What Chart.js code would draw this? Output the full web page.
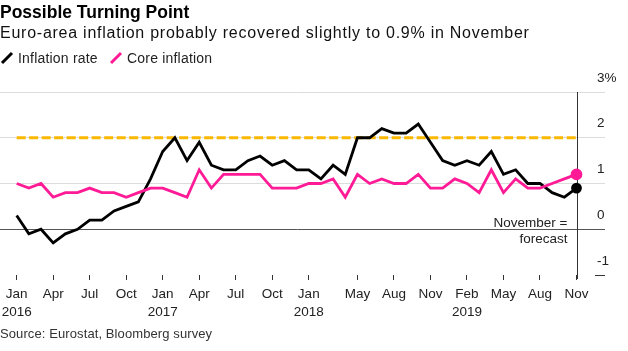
<!DOCTYPE html>
<html><head><meta charset="utf-8">
<script src="https://cdn.jsdelivr.net/npm/chart.js@4.4.1/dist/chart.umd.min.js"></script>
<style>html,body{margin:0;padding:0;background:#fff}canvas{display:block}</style>
</head><body>
<canvas id="c" width="628" height="351"></canvas>
<script>
const categories = [
  "Jan 2016","Feb 2016","Mar 2016","Apr 2016","May 2016","Jun 2016","Jul 2016","Aug 2016","Sep 2016","Oct 2016","Nov 2016","Dec 2016",
  "Jan 2017","Feb 2017","Mar 2017","Apr 2017","May 2017","Jun 2017","Jul 2017","Aug 2017","Sep 2017","Oct 2017","Nov 2017","Dec 2017",
  "Jan 2018","Feb 2018","Mar 2018","Apr 2018","May 2018","Jun 2018","Jul 2018","Aug 2018","Sep 2018","Oct 2018","Nov 2018","Dec 2018",
  "Jan 2019","Feb 2019","Mar 2019","Apr 2019","May 2019","Jun 2019","Jul 2019","Aug 2019","Sep 2019","Oct 2019","Nov 2019"
];
const inflationRate = [
  0.3,-0.1,0.0,-0.3,-0.1,0.0,0.2,0.2,0.4,0.5,0.6,1.1,
  1.7,2.0,1.5,1.9,1.4,1.3,1.3,1.5,1.6,1.4,1.5,1.3,
  1.3,1.1,1.4,1.2,2.0,2.0,2.2,2.1,2.1,2.3,1.9,1.5,
  1.4,1.5,1.4,1.7,1.2,1.3,1.0,1.0,0.8,0.7,0.9
];
const coreInflation = [
  1.0,0.9,1.0,0.7,0.8,0.8,0.9,0.8,0.8,0.7,0.8,0.9,
  0.9,0.8,0.7,1.3,0.9,1.2,1.2,1.2,1.2,0.9,0.9,0.9,
  1.0,1.0,1.1,0.7,1.2,1.0,1.1,1.0,1.0,1.2,0.9,0.9,
  1.1,1.0,0.8,1.3,0.8,1.1,0.9,0.9,1.0,1.1,1.2
];
const ecbTarget = 2;
const xTickIndex = [0,3,6,9,12,15,18,21,24,28,31,34,37,40,43,46];
const xTickMonth = ["Jan","Apr","Jul","Oct","Jan","Apr","Jul","Oct","Jan","May","Aug","Nov","Feb","May","Aug","Nov"];
const xTickYear  = ["2016","","","","2017","","","","2018","","","","2019","","",""];
const yTickValues = [-1,0,1,2,3];
const yTickLabels = ["-1","0","1","2","3%"];

const FONT = "'Liberation Sans', Arial, sans-serif";
const BLACK = '#000000';
const PINK = '#ff1a96';
const GOLD = '#fbb800';

function slashIcon(color){
  const c = document.createElement('canvas');
  c.width = 14; c.height = 14;
  const g = c.getContext('2d');
  g.strokeStyle = color; g.lineWidth = 3; g.lineCap = 'butt';
  g.beginPath(); g.moveTo(2,12); g.lineTo(12,2); g.stroke();
  return c;
}

const decorations = {
  id: 'decorations',
  beforeDatasetsDraw(chart){
    const {ctx, scales:{x,y}} = chart;
    ctx.save();
    ctx.strokeStyle = GOLD; ctx.lineWidth = 3; ctx.setLineDash([9,3.5]);
    ctx.beginPath();
    ctx.moveTo(x.getPixelForValue(0), y.getPixelForValue(ecbTarget));
    ctx.lineTo(x.getPixelForValue(categories.length-1), y.getPixelForValue(ecbTarget));
    ctx.stroke();
    ctx.restore();
    const lx = Math.round(x.getPixelForValue(categories.length-1)) + 0.5;
    ctx.save();
    ctx.strokeStyle = '#333'; ctx.lineWidth = 1;
    ctx.beginPath(); ctx.moveTo(lx, y.getPixelForValue(3)); ctx.lineTo(lx, y.getPixelForValue(-1)+4); ctx.stroke();
    ctx.font = '13.5px ' + FONT;
    ctx.textAlign = 'right'; ctx.textBaseline = 'middle';
    const y0 = y.getPixelForValue(0);
    const tx = lx - 10;
    ctx.lineJoin = 'round';
    ctx.strokeStyle = '#fff'; ctx.lineWidth = 3;
    ctx.strokeText('November =', tx, y0 - 6);
    ctx.strokeText('forecast', tx, y0 + 10);
    ctx.fillStyle = '#222';
    ctx.fillText('November =', tx, y0 - 6);
    ctx.fillText('forecast', tx, y0 + 10);
    ctx.restore();
  },
  afterDraw(chart){
    const ctx = chart.ctx;
    ctx.save();
    ctx.textAlign = 'left'; ctx.textBaseline = 'alphabetic';
    ctx.fillStyle = '#000';
    ctx.font = 'bold 17.5px ' + FONT;
    ctx.fillText('Possible Turning Point', 0, 18);
    ctx.fillStyle = '#111';
    ctx.font = '16px ' + FONT;
    ctx.letterSpacing = '0.75px';
    ctx.fillText('Euro-area inflation probably recovered slightly to 0.9% in November', 0, 38);
    ctx.letterSpacing = '0px';
    ctx.drawImage(slashIcon(BLACK), 0, 51);
    ctx.drawImage(slashIcon(PINK), 109, 51);
    ctx.font = '14px ' + FONT;
    ctx.fillStyle = '#222';
    ctx.letterSpacing = '0.2px';
    ctx.fillText('Inflation rate', 18, 63);
    ctx.fillText('Core inflation', 127, 63);
    ctx.font = '13px ' + FONT;
    ctx.fillStyle = '#333';
    ctx.letterSpacing = '0.1px';
    ctx.fillText('Source: Eurostat, Bloomberg survey', 0, 338);
    ctx.restore();
  }
};

const lastIdx = categories.length - 1;
new Chart(document.getElementById('c'), {
  type: 'line',
  data: {
    labels: categories.map((_, i) => i),
    datasets: [
      { label: 'Core inflation', data: coreInflation, borderColor: PINK, backgroundColor: PINK,
        borderWidth: 2.8, pointRadius: ctx => ctx.dataIndex === lastIdx ? 4.5 : 0, pointHoverRadius: 0,
        tension: 0, order: 0, borderJoinStyle: 'miter', clip: false },
      { label: 'Inflation rate', data: inflationRate, borderColor: BLACK, backgroundColor: BLACK,
        borderWidth: 2.8, pointRadius: ctx => ctx.dataIndex === lastIdx ? 4 : 0, pointHoverRadius: 0,
        tension: 0, order: 1, borderJoinStyle: 'miter', clip: false }
    ]
  },
  options: {
    responsive: false, animation: false, devicePixelRatio: 1,
    layout: { autoPadding: false, padding: { top: 92, left: 0, right: 0, bottom: 0 } },
    plugins: { legend: { display: false }, tooltip: { enabled: false } },
    scales: {
      x: {
        type: 'linear', min: -1.37, max: 47.52,
        afterBuildTicks(axis){ axis.ticks = xTickIndex.map(v => ({ value: v })); },
        afterFit(axis){ axis.height = 76; axis.paddingLeft = 0; axis.paddingRight = 0; },
        ticks: {
          autoSkip: false, maxRotation: 0, padding: 6, color: '#222',
          font: { family: FONT, size: 13.5, lineHeight: 1.3 },
          callback: v => { const k = xTickIndex.indexOf(v); return k < 0 ? '' : [xTickMonth[k], xTickYear[k]]; }
        },
        grid: { drawOnChartArea: false, drawTicks: true, tickLength: 5, tickColor: '#333' },
        border: { display: false }
      },
      y: {
        type: 'linear', position: 'right', min: -1, max: 3,
        afterBuildTicks(axis){ axis.ticks = yTickValues.map(v => ({ value: v })); },
        afterFit(axis){ axis.width = 33; axis.paddingTop = 0; axis.paddingBottom = 0; },
        ticks: {
          padding: -8, labelOffset: -14, color: '#222',
          font: { family: FONT, size: 13.5 },
          callback: v => yTickLabels[yTickValues.indexOf(v)]
        },
        grid: {
          tickLength: 10, lineWidth: 1,
          color: c => c.tick.value === 0 ? '#555' : (c.tick.value === -1 ? 'rgba(0,0,0,0)' : '#dcdcdc'),
          tickColor: c => c.tick.value === 0 ? '#555' : (c.tick.value === -1 ? '#333' : '#dcdcdc')
        },
        border: { display: false }
      }
    }
  },
  plugins: [decorations]
});
</script>
</body></html>
